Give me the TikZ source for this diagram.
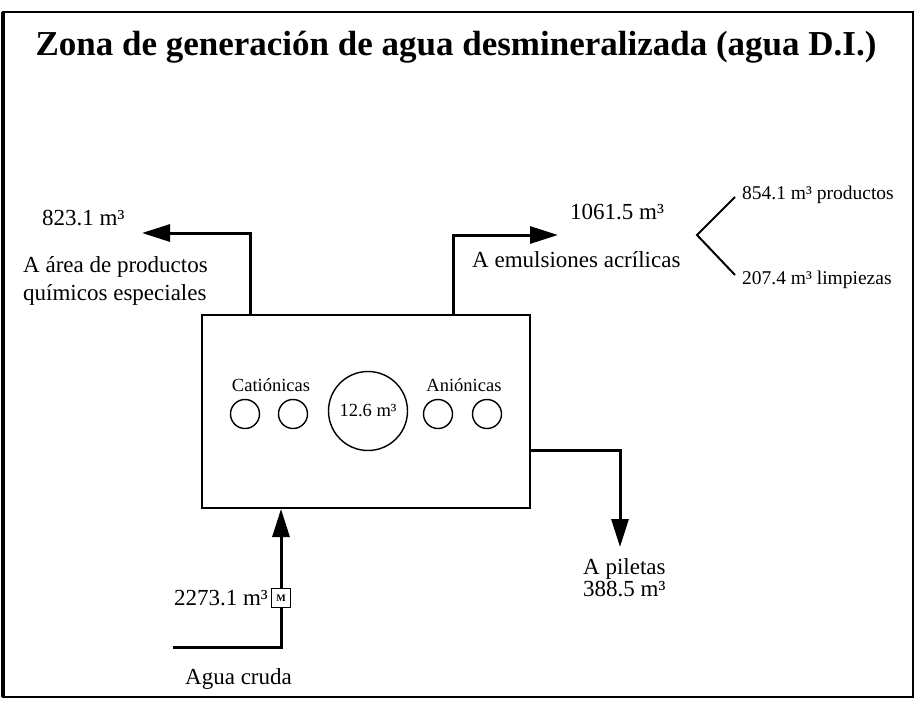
\documentclass[tikz,border=0pt]{standalone}
\usepackage{fontspec}
\setmainfont{Liberation Serif}
\usetikzlibrary{arrows.meta,positioning}

\begin{document}
\begin{tikzpicture}[x=1pt, y=-1pt, >={Triangle[length=28pt,width=17pt]}]
			\tikzstyle{lbl} = [inner sep=0pt, font=\fontsize{23}{26}\selectfont]
			\tikzstyle{small} = [inner sep=0pt, font=\fontsize{18.5}{21}\selectfont]
			\tikzstyle{split lbl} = [inner sep=0pt, font=\fontsize{19.5}{22}\selectfont]
			\tikzstyle{flow} = [line width=3pt]
			\tikzstyle{tank} = [draw, line width=1.4pt, circle, minimum size=29pt, inner sep=0pt]
			\useasboundingbox (0,0) rectangle (918,701);
			\draw[line width=2.5pt] (3,12) rectangle (913,697);
			\draw[line width=4pt] (3,12) -- (3,697);
			\node[anchor=base, inner sep=0pt, font=\fontsize{35}{38}\selectfont\bfseries] (title) at (456,56) {Zona de generación de agua desmineralizada (agua D.I.)};
			% planta de agua D.I.
			\node[draw, line width=2pt, minimum width=328pt, minimum height=193pt] (plant) at (366,411.5) {};
			\node[tank] (c1) at (245,414) {};
			\node[tank] (c2) at (293,414) {};
			\node[tank, minimum size=79pt, small] (deposit) at (368,411) {12.6 m³};
			\node[tank] (a1) at (438,414) {};
			\node[tank] (a2) at (487,414) {};
			\node[small, anchor=base] (cat) at (271,391) {Catiónicas};
			\node[small, anchor=base] (ani) at (464,391) {Aniónicas};
			% salidas
			\coordinate (leftup) at (250,233);
			\coordinate (lefttip) at (142,233);
			\coordinate (rightup) at (453,235);
			\coordinate (righttip) at (558,235);
			\coordinate (drainbend) at (620,450);
			\coordinate (draintip) at (620,547);
			\draw[flow, ->] (plant.north -| leftup) -- (leftup) -- (lefttip);
			\draw[flow, ->] (plant.north -| rightup) -- (rightup) -- (righttip);
			\draw[flow, ->] (plant.east |- drainbend) -- (drainbend) -- (draintip);
			\node[lbl, anchor=base west] (q1) at (42,225) {823.1 m³};
			\node[lbl, anchor=base west] (d1a) at (23,272) {A área de productos};
			\node[lbl, anchor=base west] (d1b) at (23,300) {químicos especiales};
			\node[lbl, anchor=base west] (q2) at (570,219) {1061.5 m³};
			\node[lbl, anchor=base west] (d2) at (472,267) {A emulsiones acrílicas};
			\node[lbl, anchor=base west] (d3) at (583,574) {A piletas};
			\node[lbl, anchor=base west] (q3) at (583,596) {388.5 m³};
			% reparto de emulsiones
			\coordinate (split) at (697,235);
			\coordinate (splitup) at (735,197);
			\coordinate (splitdown) at (735,275);
			\draw[line width=2pt] (splitup) -- (split) -- (splitdown);
			\node[split lbl, anchor=base west] (prod) at (742,199) {854.1 m³ productos};
			\node[split lbl, anchor=base west] (limp) at (742,284) {207.4 m³ limpiezas};
			% entrada de agua cruda
			\coordinate (raw) at (173,647);
			\node[draw, fill=white, line width=1.2pt, minimum size=19pt, inner sep=0pt, font=\fontsize{10}{10}\selectfont\bfseries] (meter) at (281,598) {M};
			\draw[flow] (raw) -| (meter.south);
			\draw[flow, ->] (meter.north) -- (meter.north |- plant.south);
			\node[lbl, anchor=base east] (q0) at (268,605) {2273.1 m³};
			\node[lbl, anchor=base west] (raw label) at (185,684) {Agua cruda};
\end{tikzpicture}
\end{document}
